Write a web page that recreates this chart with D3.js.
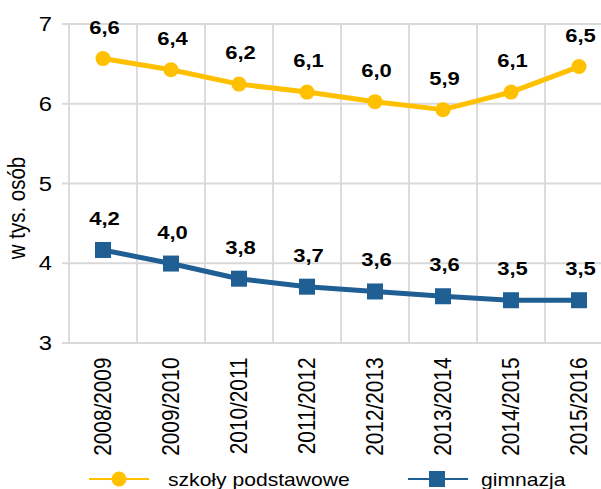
<!DOCTYPE html>
<html><head><meta charset="utf-8">
<script src="https://cdn.jsdelivr.net/npm/d3@7"></script>
<style>
html,body{margin:0;padding:0;background:#fff;overflow:hidden}
text{font-family:"Liberation Sans",Arial,sans-serif;fill:#000}
</style></head>
<body>
<svg id="chart" width="601" height="489"></svg>
<script>
const categories = ["2008/2009","2009/2010","2010/2011","2011/2012","2012/2013","2013/2014","2014/2015","2015/2016"];
const szkolyPodstawowe = [6.56, 6.42, 6.24, 6.14, 6.02, 5.92, 6.14, 6.46];
const gimnazja = [4.16, 3.99, 3.80, 3.70, 3.64, 3.58, 3.53, 3.53];
const yTicks = [3, 4, 5, 6, 7];
const seriesNames = ["szkoły podstawowe", "gimnazja"];
const yTitle = "w tys. osób";

const SX = 1.16; // horizontal text stretch seen in the reference
const svg = d3.select("#chart");
const W = 601;
const x = d3.scaleBand().domain(categories).range([69, 613]);
const y = d3.scaleLinear().domain([3, 7]).range([342.5, 23.5]);
const grid = "#d9d9d9";
const yellow = "#FFC000", blue = "#1F5F94";
const fmt = v => d3.format(".1f")(v).replace(".", ",");

// y axis with gridlines
const yAxis = svg.append("g").attr("transform", "translate(62,0)")
  .call(d3.axisLeft(y).tickValues(yTicks).tickSize(-(W - 62)).tickPadding(10).tickFormat(d3.format("d")));
yAxis.select(".domain").remove();
yAxis.selectAll(".tick line").attr("stroke", grid).attr("stroke-width", 1.8);
yAxis.selectAll(".tick text")
  .attr("x", null).attr("dy", null)
  .attr("transform", "translate(-10,7) scale(" + SX + ",1)")
  .attr("text-anchor", "end")
  .style("font-size", "20.5px").style("font-family", "'Liberation Sans',Arial,sans-serif").attr("fill", "#000");

// vertical gridlines at category boundaries
svg.append("g").selectAll("line").data(categories).join("line")
  .attr("x1", d => x(d)).attr("x2", d => x(d))
  .attr("y1", y(7)).attr("y2", y(3))
  .attr("stroke", grid).attr("stroke-width", 1.8);

// x axis labels
const xAxis = svg.append("g").attr("transform", "translate(0," + y(3) + ")")
  .call(d3.axisBottom(x).tickSize(0).tickPadding(0));
xAxis.select(".domain").remove();
xAxis.selectAll(".tick text")
  .attr("y", null).attr("dy", null)
  .attr("transform", "translate(0,15) scale(" + SX + ",1) rotate(-90)")
  .attr("text-anchor", "end").attr("dominant-baseline", "central")
  .style("font-size", "20.8px").style("font-family", "'Liberation Sans',Arial,sans-serif").attr("fill", "#000");

// y title
svg.append("text")
  .attr("transform", "translate(25,208) scale(" + SX + ",1) rotate(-90)")
  .attr("text-anchor", "middle").style("font-size", "20.5px").text(yTitle);

const cx = d => x(d) + x.bandwidth() / 2;
const line = d3.line().x((d, i) => cx(categories[i])).y(d => y(d));

function drawSeries(vals, color, shape) {
  const g = svg.append("g");
  g.append("path").datum(vals).attr("d", line)
    .attr("fill", "none").attr("stroke", color).attr("stroke-width", 5).attr("stroke-linejoin", "round");
  if (shape === "circle") {
    g.selectAll("circle").data(vals).join("circle")
      .attr("cx", (d, i) => cx(categories[i])).attr("cy", d => y(d)).attr("r", 7.5).attr("fill", color);
  } else {
    g.selectAll("rect").data(vals).join("rect")
      .attr("x", (d, i) => cx(categories[i]) - 8).attr("y", d => y(d) - 8)
      .attr("width", 16).attr("height", 16).attr("fill", color);
  }
  g.selectAll("text").data(vals).join("text")
    .attr("transform", (d, i) => "translate(" + (cx(categories[i]) + 1.5) + "," + (y(d) - 25) + ") scale(" + SX + ",1)")
    .attr("text-anchor", "middle").style("font-size", "19px").style("font-weight", "bold")
    .text(d => fmt(d));
}
drawSeries(szkolyPodstawowe, yellow, "circle");
drawSeries(gimnazja, blue, "square");

// legend
const leg = svg.append("g");
const legY = 479;
leg.append("line").attr("x1", 89).attr("x2", 149).attr("y1", legY).attr("y2", legY).attr("stroke", yellow).attr("stroke-width", 2);
leg.append("circle").attr("cx", 119).attr("cy", legY).attr("r", 7.5).attr("fill", yellow);
leg.append("text").attr("transform", "translate(168," + (legY + 7) + ") scale(" + SX + ",1)").style("font-size", "18.2px").text(seriesNames[0]);
leg.append("line").attr("x1", 408).attr("x2", 468).attr("y1", legY).attr("y2", legY).attr("stroke", blue).attr("stroke-width", 2);
leg.append("rect").attr("x", 429).attr("y", legY - 8).attr("width", 16).attr("height", 16).attr("fill", blue);
leg.append("text").attr("transform", "translate(481," + (legY + 7) + ") scale(" + SX + ",1)").style("font-size", "18.2px").text(seriesNames[1]);
</script>
</body></html>
